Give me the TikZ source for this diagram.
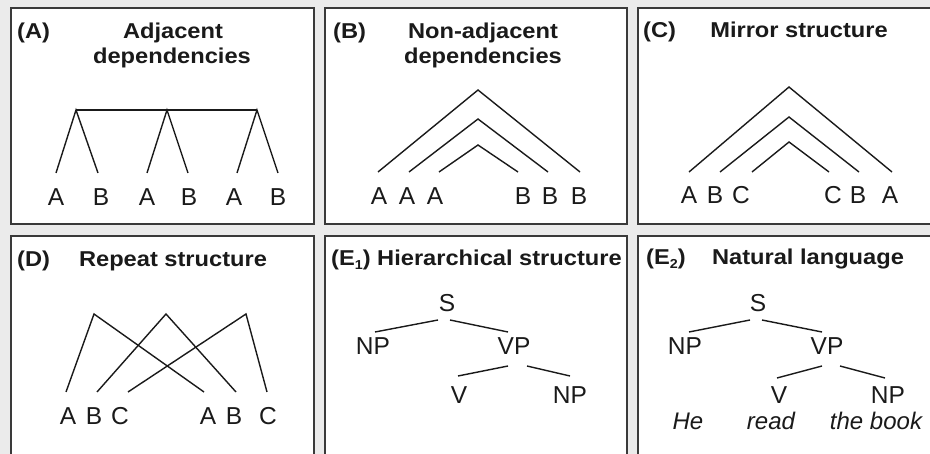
\documentclass[tikz,border=0pt]{standalone}
\usepackage{fontspec}
\setmainfont{Liberation Sans}
\newfontfamily\titlefont[FakeStretch=1.1]{Liberation Sans}
\definecolor{bg}{HTML}{EBEBEB}
\definecolor{frame}{HTML}{3A3A3A}
\definecolor{ink}{HTML}{1A1A1A}
\tikzset{
  panel/.style={fill=white, draw=frame, line width=1.4pt},
  ttl/.style={font=\titlefont\bfseries\fontsize{21.5}{26}\selectfont, text=ink, inner sep=0pt, anchor=base},
  ttlw/.style={ttl, anchor=base west},
  lt/.style={font=\fontsize{24.5}{29}\selectfont, text=ink, inner sep=0pt, anchor=base},
  it/.style={lt, font=\itshape\fontsize{24}{28}\selectfont},
  br/.style={draw=ink, line width=1.4pt},
}
\begin{document}
\begin{tikzpicture}[x=1pt,y=-1pt]
\useasboundingbox (0,0) rectangle (930,454);
\clip (0,0) rectangle (930,454);
\fill[bg] (0,0) rectangle (930,454);
% panels
\path[panel] (11,8) rectangle (314,224);
\path[panel] (325,8) rectangle (627,224);
\path[panel] (638,8) rectangle (940,224);
\path[panel] (11,236) rectangle (314,470);
\path[panel] (325,236) rectangle (627,470);
\path[panel] (638,236) rectangle (940,470);

% ---------- Panel A ----------
\node[ttlw] (tA) at (17,39) {(A)};
\node[ttl] (tA1) at (173,39) {Adjacent};
\node[ttl] (tA2) at (172,64) {dependencies};
\coordinate (a1) at (76,110);
\coordinate (a2) at (167,110);
\coordinate (a3) at (257,110);
\coordinate (ae1) at (56,173);
\coordinate (ae2) at (98,173);
\coordinate (ae3) at (147,173);
\coordinate (ae4) at (188,173);
\coordinate (ae5) at (237,173);
\coordinate (ae6) at (278,173);
\draw[br] (a1) -- (a3);
\draw[br] (ae1) -- (a1) -- (ae2);
\draw[br] (ae3) -- (a2) -- (ae4);
\draw[br] (ae5) -- (a3) -- (ae6);
\node[lt] (la1) at (56,206) {A};
\node[lt] (la2) at (101,206) {B};
\node[lt] (la3) at (147,206) {A};
\node[lt] (la4) at (189,206) {B};
\node[lt] (la5) at (234,206) {A};
\node[lt] (la6) at (278,206) {B};

% ---------- Panel B ----------
\node[ttlw] (tB) at (333,39) {(B)};
\node[ttl] (tB1) at (483,39) {Non-adjacent};
\node[ttl] (tB2) at (483,64) {dependencies};
\coordinate (b1) at (478,90);
\coordinate (b2) at (478,119);
\coordinate (b3) at (478,145);
\coordinate (be1) at (378,172);
\coordinate (be2) at (409,172);
\coordinate (be3) at (439,172);
\coordinate (be4) at (518,172);
\coordinate (be5) at (548,172);
\coordinate (be6) at (580,172);
\draw[br] (be1) -- (b1) -- (be6);
\draw[br] (be2) -- (b2) -- (be5);
\draw[br] (be3) -- (b3) -- (be4);
\node[lt] (lb1) at (379,205) {A};
\node[lt] (lb2) at (407,205) {A};
\node[lt] (lb3) at (435,205) {A};
\node[lt] (lb4) at (523,205) {B};
\node[lt] (lb5) at (550,205) {B};
\node[lt] (lb6) at (579,205) {B};

% ---------- Panel C ----------
\node[ttlw] (tC) at (643,38) {(C)};
\node[ttl] (tC1) at (799,38) {Mirror structure};
\coordinate (c1) at (789,87);
\coordinate (c2) at (789,117);
\coordinate (c3) at (789,142);
\coordinate (ce1) at (689,172);
\coordinate (ce2) at (720,172);
\coordinate (ce3) at (752,172);
\coordinate (ce4) at (829,172);
\coordinate (ce5) at (859,172);
\coordinate (ce6) at (892,172);
\draw[br] (ce1) -- (c1) -- (ce6);
\draw[br] (ce2) -- (c2) -- (ce5);
\draw[br] (ce3) -- (c3) -- (ce4);
\node[lt] (lc1) at (689,204) {A};
\node[lt] (lc2) at (715,204) {B};
\node[lt] (lc3) at (741,204) {C};
\node[lt] (lc4) at (833,204) {C};
\node[lt] (lc5) at (858,204) {B};
\node[lt] (lc6) at (890,204) {A};

% ---------- Panel D ----------
\node[ttlw] (tD) at (17,267) {(D)};
\node[ttl] (tD1) at (173,267) {Repeat structure};
\coordinate (d1) at (94,314);
\coordinate (d2) at (166,314);
\coordinate (d3) at (246,314);
\coordinate (de1) at (66,392);
\coordinate (de2) at (97,392);
\coordinate (de3) at (128,392);
\coordinate (de4) at (204,392);
\coordinate (de5) at (236,392);
\coordinate (de6) at (267,392);
\draw[br] (de1) -- (d1) -- (de4);
\draw[br] (de2) -- (d2) -- (de5);
\draw[br] (de3) -- (d3) -- (de6);
\node[lt] (ld1) at (68,425) {A};
\node[lt] (ld2) at (94,425) {B};
\node[lt] (ld3) at (120,425) {C};
\node[lt] (ld4) at (208,425) {A};
\node[lt] (ld5) at (234,425) {B};
\node[lt] (ld6) at (268,425) {C};

% ---------- Panel E1 ----------
\node[ttlw] (tE1) at (331,266) {(E{\fontsize{13}{13}\selectfont\raisebox{-4pt}{1}}) Hierarchical structure};
\node[lt] (e1S) at (447,312) {S};
\node[lt] (e1NP) at (373,355) {NP};
\node[lt] (e1VP) at (514,355) {VP};
\node[lt] (e1V) at (459,404) {V};
\node[lt] (e1NP2) at (570,404) {NP};
\coordinate (e1s1) at (438,320);
\coordinate (e1s2) at (450,320);
\coordinate (e1n) at (375,332);
\coordinate (e1v) at (508,332);
\coordinate (e1v1) at (508,366);
\coordinate (e1v2) at (527,366);
\coordinate (e1x) at (458,376);
\coordinate (e1y) at (570,376);
\draw[br] (e1s1) -- (e1n);
\draw[br] (e1s2) -- (e1v);
\draw[br] (e1v1) -- (e1x);
\draw[br] (e1v2) -- (e1y);

% ---------- Panel E2 ----------
\node[ttlw] (tE2) at (646,265) {(E{\fontsize{13}{13}\selectfont\raisebox{-4pt}{2}})};
\node[ttl] (tE2b) at (808,265) {Natural language};
\node[lt] (e2S) at (758,312) {S};
\node[lt] (e2NP) at (685,355) {NP};
\node[lt] (e2VP) at (827,355) {VP};
\node[lt] (e2V) at (779,404) {V};
\node[lt] (e2NP2) at (888,404) {NP};
\node[it] (w1) at (688,430) {He};
\node[it] (w2) at (771,430) {read};
\node[it] (w3) at (876,430) {the book};
\coordinate (e2s1) at (750,320);
\coordinate (e2s2) at (762,320);
\coordinate (e2n) at (689,332);
\coordinate (e2v) at (822,332);
\coordinate (e2v1) at (822,366);
\coordinate (e2v2) at (840,366);
\coordinate (e2x) at (777,378);
\coordinate (e2y) at (885,378);
\draw[br] (e2s1) -- (e2n);
\draw[br] (e2s2) -- (e2v);
\draw[br] (e2v1) -- (e2x);
\draw[br] (e2v2) -- (e2y);
\end{tikzpicture}
\end{document}
